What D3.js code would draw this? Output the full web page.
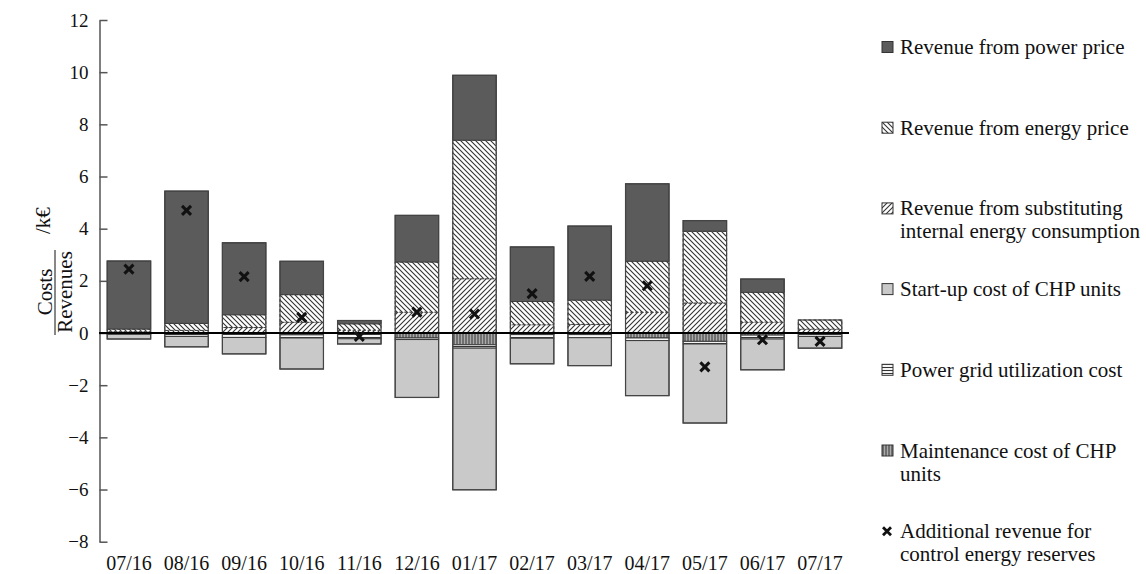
<!DOCTYPE html>
<html><head><meta charset="utf-8">
<script src="https://cdn.jsdelivr.net/npm/d3@7"></script>
<style>body{margin:0;background:#fff}svg{display:block;font-family:"Liberation Serif","Times New Roman",serif}</style>
</head><body><svg id="c" width="1146" height="574"></svg>
<script>
const categories = ["07/16","08/16","09/16","10/16","11/16","12/16","01/17","02/17","03/17","04/17","05/17","06/17","07/17"];
const powerPrice   = [2.61, 5.07, 2.76, 1.28, 0.13, 1.79, 2.49, 2.09, 2.84, 2.97, 0.41, 0.51, 0.00];
const energyPrice  = [0.10, 0.27, 0.49, 1.06, 0.24, 1.92, 5.31, 0.89, 0.93, 1.95, 2.75, 1.14, 0.35];
const substituting = [0.05, 0.10, 0.21, 0.41, 0.11, 0.80, 2.08, 0.32, 0.33, 0.80, 1.15, 0.42, 0.15];
const startup      = [-0.18, -0.40, -0.63, -1.19, -0.20, -2.22, -5.43, -0.98, -1.07, -2.11, -3.03, -1.18, -0.45];
const gridCost     = [-0.03, -0.10, -0.15, -0.12, -0.20, -0.06, -0.13, -0.14, -0.12, -0.10, -0.10, -0.15, -0.10];
const maintenance  = [-0.02, -0.03, -0.02, -0.07, -0.02, -0.19, -0.45, -0.06, -0.06, -0.19, -0.32, -0.08, -0.03];
const controlReserve = [2.45, 4.70, 2.16, 0.60, -0.13, 0.80, 0.73, 1.51, 2.17, 1.81, -1.30, -0.26, -0.32];
const yTicks = [-8,-6,-4,-2,0,2,4,6,8,10,12];
const legendLabels = {
  power: ["Revenue from power price"],
  energy: ["Revenue from energy price"],
  subst: ["Revenue from substituting","internal energy consumption"],
  startup: ["Start-up cost of CHP units"],
  grid: ["Power grid utilization cost"],
  maint: ["Maintenance cost of CHP","units"],
  reserve: ["Additional revenue for","control energy reserves"]
};

const svg = d3.select("#c");
const defs = svg.append("defs");
function pat(id, w, h, bg, d, sw){
  const p = defs.append("pattern").attr("id", id).attr("patternUnits","userSpaceOnUse").attr("width", w).attr("height", h);
  p.append("rect").attr("width", w).attr("height", h).attr("fill", bg);
  p.append("path").attr("d", d).attr("stroke", "#333").attr("stroke-width", sw).attr("fill","none");
}
pat("pEnergy", 5, 5, "#fff", "M0,0L5,5M-1,4L1,6M4,-1L6,1", 1.1);
pat("pSubst", 5, 5, "#fff", "M0,5L5,0M-1,1L1,-1M4,6L6,4", 1.1);
pat("pGrid", 4, 3, "#fff", "M0,1.5H4", 1.1);
pat("pMaint", 3, 4, "#aaa", "M1,0V4", 1);

const fills = {power:"#5b5b5b", energy:"url(#pEnergy)", subst:"url(#pSubst)", startup:"#c9c9c9", grid:"url(#pGrid)", maint:"url(#pMaint)"};
const dashed = {energy:true, subst:true, grid:false, maint:false, power:false, startup:false};

const x = d3.scaleBand().domain(categories).range([100, 849]).paddingInner(0.245).paddingOuter(0.125);
const y = d3.scaleLinear().domain([-8, 12]).range([541.7, 20]);

const rows = categories.map((c, i) => ({cat: c, maint: maintenance[i], grid: gridCost[i], startup: startup[i], subst: substituting[i], energy: energyPrice[i], power: powerPrice[i]}));
const keys = ["maint","grid","startup","subst","energy","power"];
const series = d3.stack().keys(keys).offset(d3.stackOffsetDiverging)(rows);

const gBars = svg.append("g");
series.forEach(s => {
  gBars.selectAll(null).data(s.filter(d => Math.abs(d[1]-d[0]) > 1e-9)).enter().append("rect")
    .attr("x", d => x(d.data.cat))
    .attr("width", x.bandwidth())
    .attr("y", d => y(Math.max(d[0], d[1])))
    .attr("height", d => Math.abs(y(d[0]) - y(d[1])))
    .attr("fill", fills[s.key])
    .attr("stroke", "#3a3a3a").attr("stroke-width", 1)
    .attr("stroke-dasharray", dashed[s.key] ? "3,2" : null);
});
// outer outlines of stacks
gBars.selectAll(null).data(rows).enter().append("rect")
  .attr("x", d => x(d.cat)).attr("width", x.bandwidth())
  .attr("y", d => y(d.subst + d.energy + d.power))
  .attr("height", d => y(0) - y(d.subst + d.energy + d.power))
  .attr("fill", "none").attr("stroke", "#444").attr("stroke-width", 1.2);
gBars.selectAll(null).data(rows).enter().append("rect")
  .attr("x", d => x(d.cat)).attr("width", x.bandwidth())
  .attr("y", y(0))
  .attr("height", d => y(d.maint + d.grid + d.startup) - y(0))
  .attr("fill", "none").attr("stroke", "#444").attr("stroke-width", 1.2);

// y axis
const yAxis = d3.axisLeft(y).tickValues(yTicks).tickSizeInner(-8).tickSizeOuter(0).tickPadding(11);
const gy = svg.append("g").attr("transform", "translate(99.5,0)").call(yAxis);
gy.select(".domain").attr("stroke", "#555").attr("stroke-width", 1.5);
gy.selectAll(".tick line").attr("stroke", "#555").attr("stroke-width", 1.5);
gy.selectAll(".tick text").attr("font-size", 19).attr("font-family", "Liberation Serif").attr("fill", "#111");

// zero line
svg.append("line").attr("x1", 99).attr("x2", 849).attr("y1", y(0)).attr("y2", y(0)).attr("stroke", "#000").attr("stroke-width", 2.2);

// x labels
const xAxis = d3.axisBottom(x).tickSize(0).tickPadding(0);
const gx = svg.append("g").attr("transform", "translate(0,558)").call(xAxis);
gx.select(".domain").remove();
gx.selectAll(".tick text").attr("font-size", 20).attr("font-family", "Liberation Serif").attr("fill", "#111").attr("dy", "0.6em");

// markers
const cross = (cx, cy, r) => `M${cx-r},${cy-r}L${cx+r},${cy+r}M${cx-r},${cy+r}L${cx+r},${cy-r}`;
svg.append("g").selectAll("path").data(controlReserve).enter().append("path")
  .attr("d", (v, i) => cross(x(categories[i]) + x.bandwidth()/2, y(v), 4.5))
  .attr("stroke", "#111").attr("stroke-width", 3).attr("fill", "none");

// y title
const t = svg.append("g").attr("transform", "translate(55,292) rotate(-90)").attr("font-family", "Liberation Serif").attr("font-size", 21).attr("fill", "#111");
t.append("text").attr("x", 0).attr("y", -3).attr("text-anchor", "middle").text("Costs");
t.append("line").attr("x1", -43).attr("x2", 42).attr("y1", 0).attr("y2", 0).attr("stroke", "#111").attr("stroke-width", 1);
t.append("text").attr("x", 0).attr("y", 17).attr("text-anchor", "middle").text("Revenues");
t.append("text").attr("x", 58).attr("y", -5).attr("text-anchor", "start").text("/k€");

// legend
const legendKeys = ["power","energy","subst","startup","grid","maint","reserve"];
const lg = svg.append("g").attr("font-family", "Liberation Serif").attr("font-size", 21).attr("fill", "#111");
legendKeys.forEach((k, i) => {
  const cy = 47 + i * 80.7;
  const g = lg.append("g");
  if (k === "reserve") {
    g.append("path").attr("d", cross(887, cy, 4)).attr("stroke", "#111").attr("stroke-width", 2.8);
  } else {
    g.append("rect").attr("x", 882).attr("y", cy - 5.5).attr("width", 11).attr("height", 11)
      .attr("fill", fills[k]).attr("stroke", "#333").attr("stroke-width", 1);
  }
  legendLabels[k].forEach((line, j) => {
    g.append("text").attr("x", 900).attr("y", cy + 7 + j * 23).text(line);
  });
});
</script></body></html>
